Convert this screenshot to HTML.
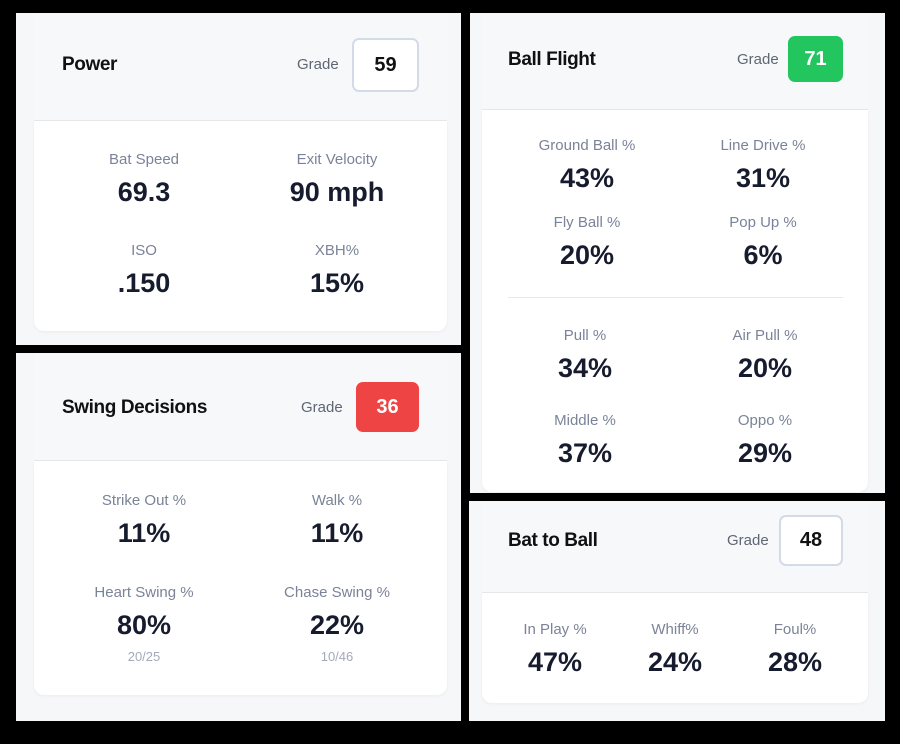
<!DOCTYPE html>
<html><head><meta charset="utf-8"><style>
*{margin:0;padding:0;box-sizing:border-box}
body{width:900px;height:744px;background:#000;position:relative;overflow:hidden;font-family:"Liberation Sans",Arial,sans-serif}
.p{position:absolute;background:#f6f7f9}
.card{position:absolute;background:#fff;border-radius:10px;box-shadow:0 1px 3px rgba(0,0,0,.05)}
.hd{position:absolute;border-bottom:1px solid #e6e8ec;background:#f7f8fa}
.t{position:absolute;font-size:19px;font-weight:bold;color:#111;letter-spacing:-0.4px}
.g{position:absolute;font-size:15px;color:#5f6673}
.b{position:absolute;border-radius:7px;font-size:20px;font-weight:bold;display:flex;align-items:center;justify-content:center}
.bw{background:#fff;border:2px solid #d3dbe8;color:#111}
.c{position:absolute;text-align:center;width:200px;margin-left:-100px}
.l{font-size:15px;color:#7a8397}
.v{font-size:27px;font-weight:bold;color:#161b2e;margin-top:9px}
.s{font-size:13px;color:#a3aab8;margin-top:8px}
.line{position:absolute;height:1px;background:#e6e8ec}
</style></head><body>

<!-- Power -->
<div class="p" style="left:16px;top:13px;width:445px;height:332px"></div>
<div class="hd" style="left:34px;top:13px;width:413px;height:108px"></div>
<div class="card" style="left:34px;top:121px;width:413px;height:210px;border-top-left-radius:0;border-top-right-radius:0"></div>
<div class="t" style="left:62px;top:54px">Power</div>
<div class="g" style="left:297px;top:56px">Grade</div>
<div class="b bw" style="left:352px;top:38px;width:67px;height:54px">59</div>
<div class="c" style="left:144px;top:151px"><div class="l">Bat Speed</div><div class="v">69.3</div></div>
<div class="c" style="left:337px;top:151px"><div class="l">Exit Velocity</div><div class="v">90 mph</div></div>
<div class="c" style="left:144px;top:242px"><div class="l">ISO</div><div class="v">.150</div></div>
<div class="c" style="left:337px;top:242px"><div class="l">XBH%</div><div class="v">15%</div></div>

<!-- Swing Decisions -->
<div class="p" style="left:16px;top:353px;width:445px;height:368px"></div>
<div class="hd" style="left:34px;top:353px;width:413px;height:108px"></div>
<div class="card" style="left:34px;top:461px;width:413px;height:234px;border-top-left-radius:0;border-top-right-radius:0"></div>
<div class="t" style="left:62px;top:397px">Swing Decisions</div>
<div class="g" style="left:301px;top:399px">Grade</div>
<div class="b" style="left:356px;top:382px;width:63px;height:50px;background:#ef4444;color:#fff">36</div>
<div class="c" style="left:144px;top:492px"><div class="l">Strike Out %</div><div class="v">11%</div></div>
<div class="c" style="left:337px;top:492px"><div class="l">Walk %</div><div class="v">11%</div></div>
<div class="c" style="left:144px;top:584px"><div class="l">Heart Swing %</div><div class="v">80%</div><div class="s">20/25</div></div>
<div class="c" style="left:337px;top:584px"><div class="l">Chase Swing %</div><div class="v">22%</div><div class="s">10/46</div></div>

<!-- Ball Flight -->
<div class="p" style="left:470px;top:13px;width:415px;height:480px"></div>
<div class="hd" style="left:482px;top:13px;width:386px;height:97px"></div>
<div class="card" style="left:482px;top:110px;width:386px;height:382px;border-top-left-radius:0;border-top-right-radius:0"></div>
<div class="t" style="left:508px;top:49px">Ball Flight</div>
<div class="g" style="left:737px;top:51px">Grade</div>
<div class="b" style="left:788px;top:36px;width:55px;height:46px;background:#22c55e;color:#fff">71</div>
<div class="c" style="left:587px;top:137px"><div class="l">Ground Ball %</div><div class="v">43%</div></div>
<div class="c" style="left:763px;top:137px"><div class="l">Line Drive %</div><div class="v">31%</div></div>
<div class="c" style="left:587px;top:214px"><div class="l">Fly Ball %</div><div class="v">20%</div></div>
<div class="c" style="left:763px;top:214px"><div class="l">Pop Up %</div><div class="v">6%</div></div>
<div class="line" style="left:508px;top:297px;width:335px"></div>
<div class="c" style="left:585px;top:327px"><div class="l">Pull %</div><div class="v">34%</div></div>
<div class="c" style="left:765px;top:327px"><div class="l">Air Pull %</div><div class="v">20%</div></div>
<div class="c" style="left:585px;top:412px"><div class="l">Middle %</div><div class="v">37%</div></div>
<div class="c" style="left:765px;top:412px"><div class="l">Oppo %</div><div class="v">29%</div></div>

<!-- Bat to Ball -->
<div class="p" style="left:469px;top:501px;width:416px;height:220px"></div>
<div class="hd" style="left:482px;top:501px;width:386px;height:92px"></div>
<div class="card" style="left:482px;top:593px;width:386px;height:110px;border-top-left-radius:0;border-top-right-radius:0"></div>
<div class="t" style="left:508px;top:530px">Bat to Ball</div>
<div class="g" style="left:727px;top:532px">Grade</div>
<div class="b bw" style="left:779px;top:515px;width:64px;height:51px">48</div>
<div class="c" style="left:555px;top:621px"><div class="l">In Play %</div><div class="v">47%</div></div>
<div class="c" style="left:675px;top:621px"><div class="l">Whiff%</div><div class="v">24%</div></div>
<div class="c" style="left:795px;top:621px"><div class="l">Foul%</div><div class="v">28%</div></div>

</body></html>
